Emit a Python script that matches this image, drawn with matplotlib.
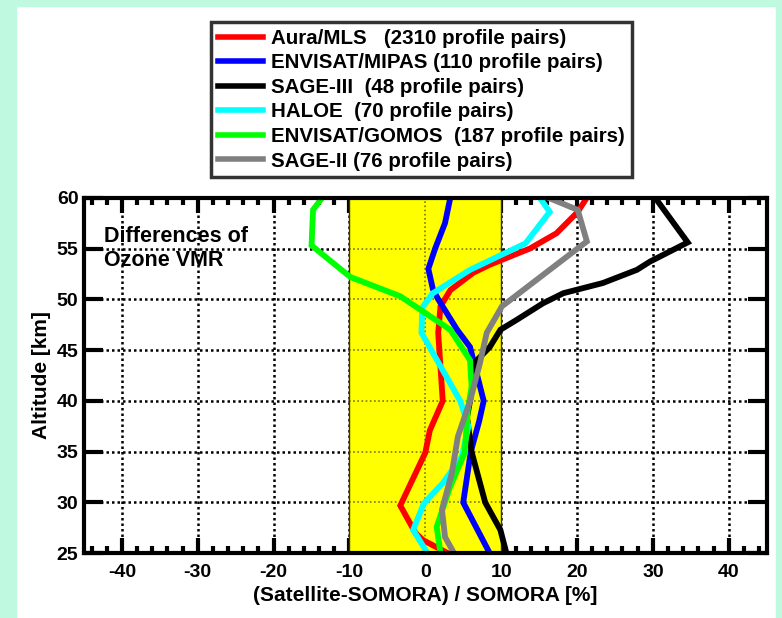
import matplotlib
matplotlib.use("Agg")
import matplotlib.pyplot as plt
from matplotlib import font_manager
from matplotlib.patches import Rectangle
from matplotlib.ticker import MultipleLocator

# Pick a narrow bold sans if available
names = {f.name for f in font_manager.fontManager.ttflist}
FAMILY = "Liberation Sans Narrow" if "Liberation Sans Narrow" in names else "Liberation Sans"
plt.rcParams["font.family"] = [FAMILY, "DejaVu Sans"]
plt.rcParams["font.weight"] = "bold"
plt.rcParams["axes.unicode_minus"] = False

# Relative differences (%) versus altitude (km) for each instrument
mls_alt = [25, 26.3, 27, 29.7, 34.9, 37.1, 40, 46.7, 49.3, 50.9, 52.6, 53.4, 55, 56.5, 58.6, 60]
mls_val = [3.0, -0.3, -1.3, -3.3, 0.0, 0.6, 2.3, 1.7, 2.0, 3.3, 6.3, 8.5, 13.8, 17.3, 20.1, 21.3]

mipas_alt = [25, 30, 35, 38, 40, 45.3, 47, 50, 51, 53, 55, 57.5, 60]
mipas_val = [8.5, 5.0, 6.0, 7.1, 7.7, 5.9, 4.2, 1.7, 1.0, 0.4, 1.3, 2.6, 3.3]

sage3_alt = [25, 27.3, 30, 35, 38.4, 40, 44, 45.3, 47, 48, 49.6, 50.6, 51.6, 52.9, 53.7, 55.6, 60]
sage3_val = [10.7, 9.9, 7.9, 6.1, 5.5, 5.9, 6.8, 8.5, 9.9, 12.1, 15.5, 18.2, 23.4, 27.9, 29.6, 34.6, 30.3]

haloe_alt = [25, 27.3, 29.9, 31.9, 34.5, 37.5, 40, 46.7, 49.2, 50.6, 52.9, 55.5, 58.6, 60]
haloe_val = [0.3, -1.6, -0.2, 2.3, 4.8, 5.7, 4.6, -0.5, -0.4, 1.0, 5.9, 13.2, 16.4, 15.1]

gomos_alt = [25, 27.6, 31.6, 34.9, 39.1, 41.4, 44, 47, 50.3, 52.2, 55.3, 58.8, 60]
gomos_val = [2.0, 1.5, 3.3, 5.2, 5.6, 6.1, 5.9, 3.3, -3.3, -9.9, -15.0, -14.8, -13.6]

sage2_alt = [25, 26.6, 29.3, 32.9, 36.5, 40, 43.7, 46.7, 49.3, 55.7, 58.8, 60]
sage2_val = [3.8, 2.6, 2.2, 3.5, 4.3, 5.9, 7.2, 8.1, 10.1, 21.3, 20.1, 16.2]

labels = [
    "Aura/MLS   (2310 profile pairs)",
    "ENVISAT/MIPAS (110 profile pairs)",
    "SAGE-III  (48 profile pairs)",
    "HALOE  (70 profile pairs)",
    "ENVISAT/GOMOS  (187 profile pairs)",
    "SAGE-II (76 profile pairs)",
]
colors = ["#ff0000", "#0000ff", "#000000", "#00ffff", "#00ff00", "#808080"]
series = [
    (mls_val, mls_alt), (mipas_val, mipas_alt), (sage3_val, sage3_alt),
    (haloe_val, haloe_alt), (gomos_val, gomos_alt), (sage2_val, sage2_alt),
]

W, H = 782, 618
fig = plt.figure(figsize=(W / 100, H / 100), dpi=100, facecolor="white")

# mint frame around the white page
mint = "#bff9df"
for (x0, y0, w, h) in [(0, 0, 16, H), (0, H - 6, W, 6), (776, 0, 6, H)]:
    fig.patches.append(Rectangle((x0 / W, y0 / H), w / W, h / H,
                                 transform=fig.transFigure, color=mint, zorder=0))

left, right, top, bottom = 84, 766.6, 197.7, 553.3
ax = fig.add_axes([left / W, 1 - bottom / H, (right - left) / W, (bottom - top) / H])
ax.set_xlim(-45, 45)
ax.set_ylim(25, 60)

band_lo, band_hi = -10, 10
dots = (0, (1, 1.2))

# dotted grid (black outside the band, faint olive inside it)
for gx in range(-40, 41, 10):
    ax.axvline(gx, color="black", lw=1.8, ls=dots, zorder=1)
for gy in range(30, 60, 5):
    ax.axhline(gy, color="black", lw=1.8, ls=dots, zorder=1)

# +/-10 % band
ax.axvspan(band_lo, band_hi, color="#ffff00", lw=0, zorder=2)
for gy in range(30, 60, 5):
    ax.hlines(gy, band_lo, band_hi, color="#7a7a00", lw=1.2, ls=(0, (1, 1.5)), zorder=2.5)
ax.axvline(0, color="#7a7a00", lw=1.2, ls=(0, (1, 1.5)), zorder=2.5)
ax.axvline(band_lo, color="#3a3a00", lw=1.0, zorder=2.5)
ax.axvline(band_hi, color="#3a3a00", lw=1.0, zorder=2.5)

handles = []
for (v, a), c, lab in zip(series, colors, labels):
    h, = ax.plot(v, a, color=c, lw=4.2, label=lab, zorder=3, solid_joinstyle="miter")
    handles.append(h)

for s in ax.spines.values():
    s.set_linewidth(3)
    s.set_zorder(5)

ax.xaxis.set_major_locator(MultipleLocator(10))
ax.xaxis.set_minor_locator(MultipleLocator(2))
ax.yaxis.set_major_locator(MultipleLocator(5))
ax.tick_params(axis="x", which="major", direction="in", length=11, width=3,
               top=True, bottom=True, labelsize=14, pad=8)
ax.tick_params(axis="x", which="minor", direction="in", length=5, width=3,
               top=True, bottom=True)
ax.tick_params(axis="y", which="major", direction="in", length=14, width=3,
               left=True, right=True, labelsize=14, pad=4)
for t in ax.get_xticklabels() + ax.get_yticklabels():
    t.set_fontweight("bold")

ax.set_xlabel("(Satellite-SOMORA) / SOMORA [%]", fontsize=15, fontweight="bold", labelpad=3)
ax.set_ylabel("Altitude [km]", fontsize=15, fontweight="bold", labelpad=4)

ax.text(-42.3, 57.2, "Differences of\nOzone VMR", fontsize=15.5, fontweight="bold",
        va="top", ha="left", linespacing=1.2, zorder=6)

leg = fig.legend(handles=handles, loc="upper left",
                 bbox_to_anchor=(211 / W, 1 - 22 / H), fontsize=14.8,
                 frameon=True, fancybox=False, edgecolor="black",
                 handlelength=2.2, handletextpad=0.4, labelspacing=0.27,
                 borderpad=0.33, borderaxespad=0)
leg.get_frame().set_linewidth(2.5)
for t in leg.get_texts():
    t.set_fontweight("bold")
for l in leg.get_lines():
    l.set_linewidth(4)

fig.savefig("out.png", dpi=100, facecolor=fig.get_facecolor())
